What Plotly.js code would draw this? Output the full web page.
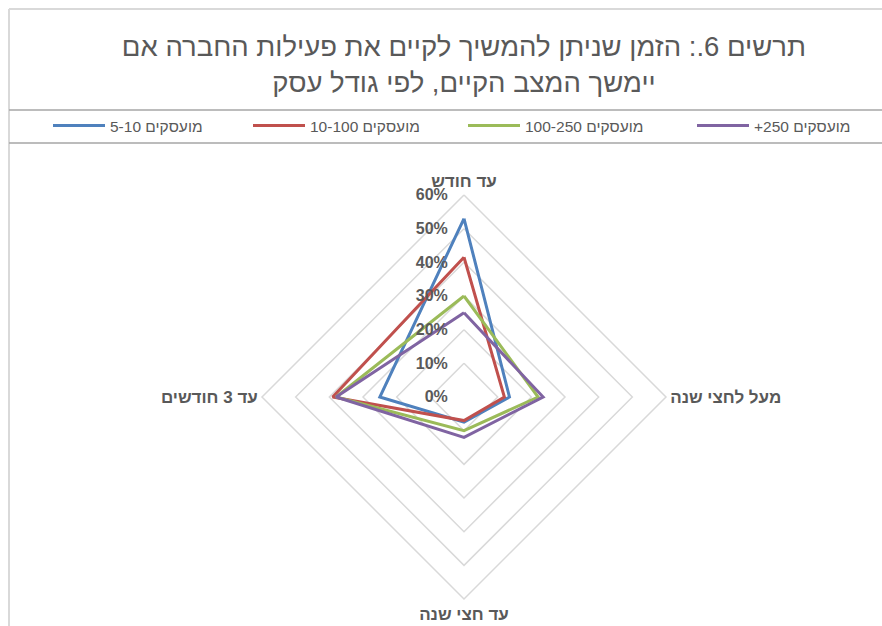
<!DOCTYPE html>
<html>
<head>
<meta charset="utf-8">
<script src="https://cdn.plot.ly/plotly-3.0.1.min.js"></script>
<style>html,body{margin:0;padding:0;background:#fff;}#chart{width:882px;height:626px;}</style>
</head>
<body>
<div id="chart"></div>
<script>
// Categories (logical order, drawn counter-clockwise from the top)
const categories = ["עד חודש", "עד 3 חודשים", "עד חצי שנה", "מעל לחצי שנה"];
// Series names
const seriesNames = ["מועסקים 5-10", "מועסקים 10-100", "מועסקים 100-250", "מועסקים 250+\u200F"];
// Values (share of firms), per category in the order above
const s5_10    = [0.53, 0.25, 0.075, 0.135];
const s10_100  = [0.415, 0.39, 0.07, 0.12];
const s100_250 = [0.30, 0.38, 0.10, 0.22];
const s250     = [0.25, 0.38, 0.12, 0.235];
const seriesValues = [s5_10, s10_100, s100_250, s250];
const colors = ["#4F81BD", "#C0504D", "#9BBB59", "#8064A2"];
const legendTextWidths = [133, 148, 162, 95];
const titleText = "תרשים 6.: הזמן שניתן להמשיך לקיים את פעילות החברה אם<br>יימשך המצב הקיים, לפי גודל עסק";

const traces = seriesValues.map((v, i) => ({
  type: "scatterpolar",
  mode: "lines",
  r: v.concat([v[0]]),
  theta: categories.concat([categories[0]]),
  name: seriesNames[i],
  legendwidth: legendTextWidths[i],
  line: {color: colors[i], width: 3},
  hoverinfo: "skip"
}));

const FONT = "Liberation Sans, Arial, sans-serif";
const layout = {
  width: 882, height: 626,
  margin: {l: 0, r: 0, t: 0, b: 0},
  paper_bgcolor: "#ffffff",
  font: {family: FONT, color: "#595959"},
  title: {
    text: titleText,
    font: {size: 27.5, color: "#595959", family: FONT},
    x: 0.526, xanchor: "center", y: 1 - 56/626, yanchor: "middle", yref: "container"
  },
  showlegend: true,
  legend: {
    orientation: "h",
    x: 48/882, xanchor: "left",
    y: 1 - 126/626, yanchor: "middle",
    itemwidth: 52,
    font: {size: 15.5, color: "#595959", family: FONT},
    bgcolor: "rgba(0,0,0,0)"
  },
  polar: {
    domain: {x: [262/882, 666/882], y: [27/626, 431/626]},
    bgcolor: "#ffffff",
    radialaxis: {
      range: [0, 0.6],
      dtick: 0.1,
      tickformat: ".0%",
      ticksuffix: "\u00A0\u00A0\u00A0",
      angle: 90,
      side: "counterclockwise",
      tickangle: 90,
      showline: false,
      ticks: "",
      gridcolor: "#d9d9d9",
      gridwidth: 1.5,
      tickfont: {size: 16, color: "#595959", family: FONT, weight: "bold"}
    },
    angularaxis: {
      direction: "counterclockwise",
      rotation: 90,
      showgrid: false,
      showline: true,
      linecolor: "#d9d9d9",
      linewidth: 1.5,
      ticks: "",
      tickfont: {size: 17, color: "#595959", family: FONT, weight: "bold"}
    },
    gridshape: "linear"
  },
  shapes: [
    {type: "line", xref: "paper", yref: "paper", x0: 9/882, x1: 1, y0: 1 - 9/626, y1: 1 - 9/626, line: {color: "#d9d9d9", width: 2}},
    {type: "line", xref: "paper", yref: "paper", x0: 9/882, x1: 9/882, y0: 0, y1: 1 - 9/626, line: {color: "#d9d9d9", width: 2}},
    {type: "line", xref: "paper", yref: "paper", x0: 9/882, x1: 1, y0: 1 - 110/626, y1: 1 - 110/626, line: {color: "#a6a6a6", width: 1.5}},
    {type: "line", xref: "paper", yref: "paper", x0: 9/882, x1: 1, y0: 1 - 143/626, y1: 1 - 143/626, line: {color: "#a6a6a6", width: 1.5}}
  ]
};

Plotly.newPlot("chart", traces, layout, {displayModeBar: false, staticPlot: true});
</script>
</body>
</html>
